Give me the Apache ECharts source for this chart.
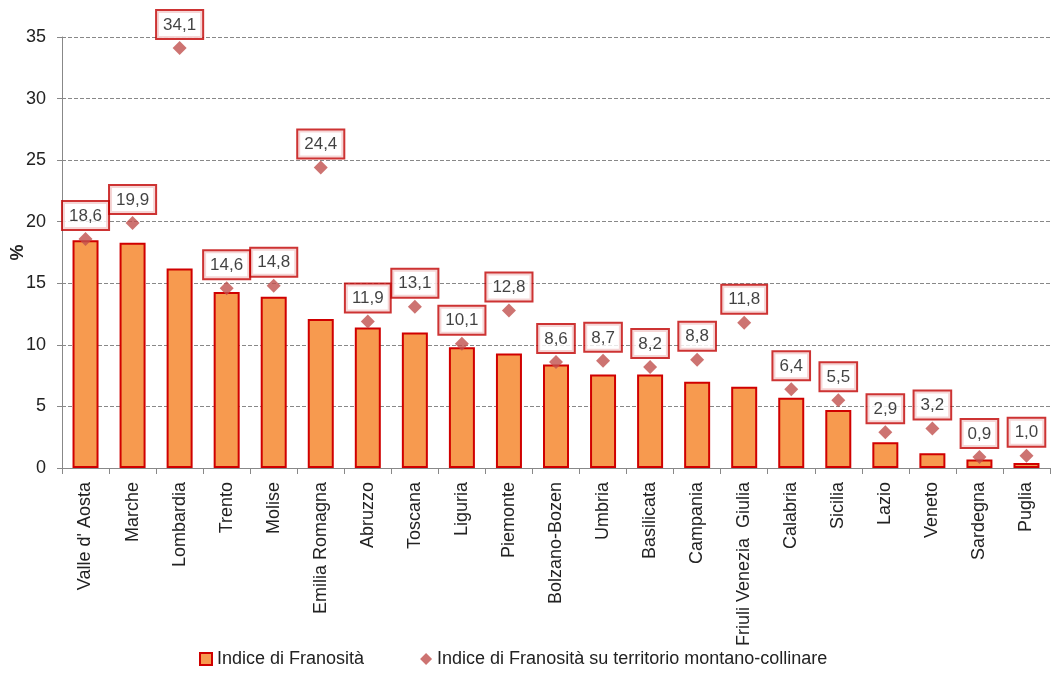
<!DOCTYPE html>
<html>
<head>
<meta charset="utf-8">
<script src="https://cdn.jsdelivr.net/npm/echarts@6/dist/echarts.min.js"></script>
<style>
html,body{margin:0;padding:0;background:#fff;}
#chart{width:1057px;height:675px;}
</style>
</head>
<body>
<div id="chart"></div>
<script>
var categories = ["Valle d' Aosta","Marche","Lombardia","Trento","Molise","Emilia Romagna","Abruzzo","Toscana","Liguria","Piemonte","Bolzano-Bozen","Umbria","Basilicata","Campania","Friuli Venezia  Giulia","Calabria","Sicilia","Lazio","Veneto","Sardegna","Puglia"];
var indiceFranosita = [18.5,18.3,16.2,14.3,13.9,12.1,11.4,11.0,9.8,9.3,8.4,7.6,7.6,7.0,6.6,5.7,4.7,2.1,1.2,0.7,0.4];
var indiceMontano = [18.6,19.9,34.1,14.6,14.8,24.4,11.9,13.1,10.1,12.8,8.6,8.7,8.2,8.8,11.8,6.4,5.5,2.9,3.2,0.9,1.0];
var yTicks = [0,5,10,15,20,25,30,35];

var chart = echarts.init(document.getElementById('chart'));
var font = 'Liberation Sans, Arial, sans-serif';
chart.setOption({
  animation:false,
  backgroundColor:'#ffffff',
  textStyle:{fontFamily:font},
  grid:{left:62,right:7,top:37,bottom:207,containLabel:false,outerBoundsMode:'none'},
  legend:{
    bottom:2,left:194,itemGap:56,itemWidth:12,itemHeight:12,
    textStyle:{fontSize:18,color:'#222',fontFamily:font},
    data:[
      {name:'Indice di Franosità',icon:'rect',itemStyle:{color:'#f79a4f',borderColor:'#d00000',borderWidth:2}},
      {name:'Indice di Franosità su territorio montano-collinare',icon:'diamond',itemStyle:{color:'#c0504d'}}
    ]
  },
  xAxis:{
    type:'category',data:categories,
    axisLine:{lineStyle:{color:'#888'}},
    axisTick:{show:true,length:6,lineStyle:{color:'#888'}},
    axisLabel:{rotate:90,fontSize:18,color:'#222',margin:14,interval:0}
  },
  yAxis:{
    type:'value',min:yTicks[0],max:yTicks[yTicks.length-1],interval:5,
    name:'%',nameLocation:'middle',nameGap:35,nameRotate:90,nameMoveOverlap:false,
    nameTextStyle:{fontSize:18,fontWeight:'bold',color:'#222'},
    axisLine:{show:true,lineStyle:{color:'#888'}},
    axisTick:{show:true,length:5,lineStyle:{color:'#888'}},
    axisLabel:{fontSize:18,color:'#222',margin:16},
    splitLine:{lineStyle:{type:'dashed',color:'#888'}}
  },
  series:[
    {
      name:'Indice di Franosità',type:'bar',data:indiceFranosita,barWidth:26,
      itemStyle:{color:'#f79a4f',borderColor:'#d00000',borderWidth:2}
    },
    {
      name:'Indice di Franosità su territorio montano-collinare',type:'scatter',data:indiceMontano,
      symbol:'diamond',symbolSize:14,itemStyle:{color:'#c0504d'},z:5,
      label:{
        show:true,position:'top',distance:3,
        formatter:function(p){return p.value.toFixed(1).replace('.',',');},
        fontSize:17,lineHeight:18,color:'#111',backgroundColor:'#fff',
        borderColor:'#c00000',borderWidth:2,padding:[5,6,4,6]
      }
    }
  ]
});
</script>
</body>
</html>
